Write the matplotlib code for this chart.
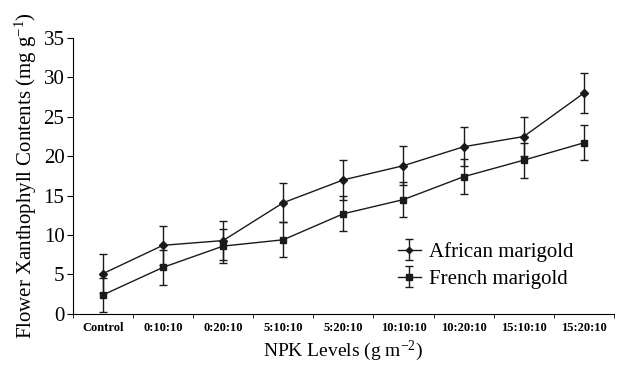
import matplotlib.pyplot as plt
from matplotlib.ticker import FixedLocator

plt.rcParams['font.family'] = ['Liberation Serif', 'DejaVu Serif']
plt.rcParams['mathtext.default'] = 'regular'

levels = ['Control', '0:10:10', '0:20:10', '5:10:10', '5:20:10',
          '10:10:10', '10:20:10', '15:10:10', '15:20:10']
african = [5.1, 8.7, 9.3, 14.1, 17.0, 18.8, 21.2, 22.5, 28.0]
african_err = [2.5, 2.5, 2.5, 2.5, 2.5, 2.5, 2.5, 2.5, 2.5]
french = [2.4, 5.9, 8.6, 9.4, 12.7, 14.5, 17.4, 19.5, 21.7]
french_err = [2.2, 2.2, 2.2, 2.2, 2.2, 2.2, 2.2, 2.2, 2.2]

x = list(range(len(levels)))

fig = plt.figure(figsize=(6.22, 3.65), dpi=100)
ax = fig.add_axes([0.117, 0.14, 0.87, 0.756])

ax.errorbar(x, african, yerr=african_err, color='#1a1a1a', marker='D', markersize=4,
            linewidth=1, elinewidth=1, capsize=3, capthick=1, label='African marigold')
ax.errorbar(x, french, yerr=french_err, color='#1a1a1a', marker='s', markersize=5,
            linewidth=1, elinewidth=1, capsize=3, capthick=1, label='French marigold')

ax.set_xlim(-0.5, 8.5)
ax.set_ylim(0, 35)
ax.set_yticks(range(0, 36, 5))
ax.set_xticks(x)
ax.set_xticklabels(levels, fontsize=9, fontweight='bold')
ax.xaxis.set_minor_locator(FixedLocator([i + 0.5 for i in range(-1, 9)]))
ax.tick_params(axis='x', which='major', length=0, pad=6)
ax.tick_params(axis='x', which='minor', length=3, direction='out')
ax.tick_params(axis='y', labelsize=15, length=4, direction='out', pad=2)

ax.spines['top'].set_visible(False)
ax.spines['right'].set_visible(False)

ax.set_xlabel('NPK Levels (g m$^{-2}$)', fontsize=14, labelpad=3)
ax.set_ylabel('Flower Xanthophyll Contents (mg g$^{-1}$)', fontsize=15, labelpad=3)

ax.legend(loc='lower left', bbox_to_anchor=(0.585, 0.06), borderaxespad=0, frameon=False,
          prop={'family': 'Liberation Serif', 'size': 15}, markerscale=0.8,
          handlelength=1.1, handletextpad=0.4, labelspacing=0.35)

fig.savefig('out.png', dpi=100)
